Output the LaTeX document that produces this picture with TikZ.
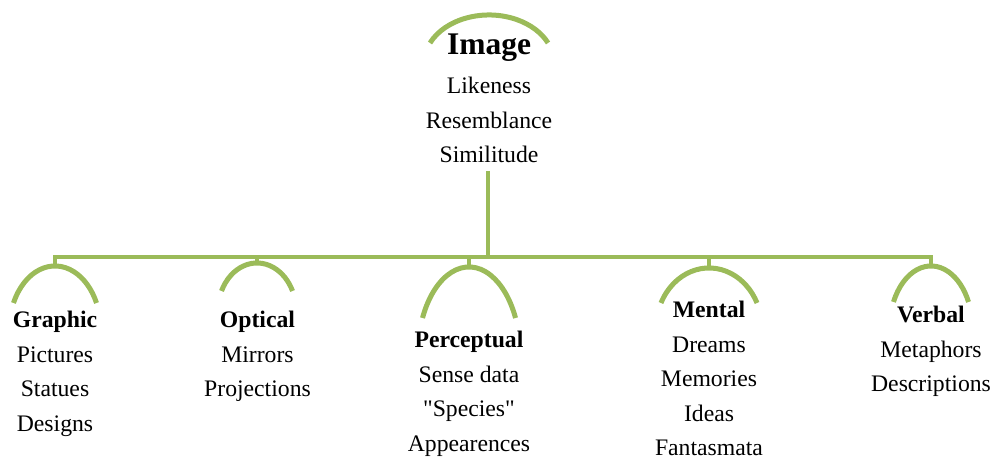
\documentclass[tikz,border=0pt]{standalone}
\usepackage{fontspec}
\setmainfont{Liberation Serif}
\usetikzlibrary{positioning}

\definecolor{leaf}{HTML}{9BBB59}

% arc over a heading: name, top x, top y, half width, height
\newcommand{\branchArc}[5]{%
	\coordinate (#1) at (#2,#3);
	\draw[arcline] (#2-#4,#3-#5) arc[start angle=155, end angle=25, x radius=#4/0.906, y radius=#5/0.577];}

\begin{document}
\begin{tikzpicture}[x=1pt, y=1pt,
	arcline/.style={draw=leaf, line width=5pt},
	stemline/.style={draw=leaf, line width=4.5pt},
	itemtext/.style={align=center, anchor=base, inner sep=0pt, font=\fontsize{23.7}{34.5}\selectfont}]
		\useasboundingbox (0,0) rectangle (995,457);
	
		% nodes sit on the baseline of their last line
		\node[itemtext] (image) at (489,294) {{\fontsize{31.5}{34.5}\selectfont\bfseries Image}\\[4.5pt]Likeness\\Resemblance\\Similitude};
		\node[itemtext] (graphic) at (55,25.5) {\textbf{Graphic}\\Pictures\\Statues\\Designs};
		\node[itemtext] (optical) at (257.5,60) {\textbf{Optical}\\Mirrors\\Projections};
		\node[itemtext] (perceptual) at (469,5.5) {\textbf{Perceptual}\\Sense data\\\textquotedbl Species\textquotedbl\\Appearences};
		\node[itemtext] (mental) at (709,1) {\textbf{Mental}\\Dreams\\Memories\\Ideas\\Fantasmata};
		\node[itemtext] (verbal) at (931,65) {\textbf{Verbal}\\Metaphors\\Descriptions};
		
		\branchArc{imageTop}{489}{442}{59}{28}
		\branchArc{graphicTop}{55}{191}{41.5}{37}
		\branchArc{opticalTop}{257}{194}{35.5}{28}
		\branchArc{perceptualTop}{469}{190}{46.5}{51}
		\branchArc{mentalTop}{709}{189}{48}{35}
		\branchArc{verbalTop}{931}{191}{37.5}{36}
		
		\coordinate (stemHead) at (488,286);
		\coordinate (stemFoot) at (488,200);
		\coordinate (graphicTick) at (55,200);
		\coordinate (opticalTick) at (257,200);
		\coordinate (perceptualTick) at (469,200);
		\coordinate (mentalTick) at (709,200);
		\coordinate (verbalTick) at (931,200);
		
		\draw[stemline] (stemHead) to (stemFoot);
		\draw[stemline] (graphicTop) -- (graphicTick) -- (verbalTick) -- (verbalTop);
		\draw[stemline] (opticalTick) to (opticalTop);
		\draw[stemline] (perceptualTick) to (perceptualTop);
		\draw[stemline] (mentalTick) to (mentalTop);
		
	\end{tikzpicture}
\end{document}
